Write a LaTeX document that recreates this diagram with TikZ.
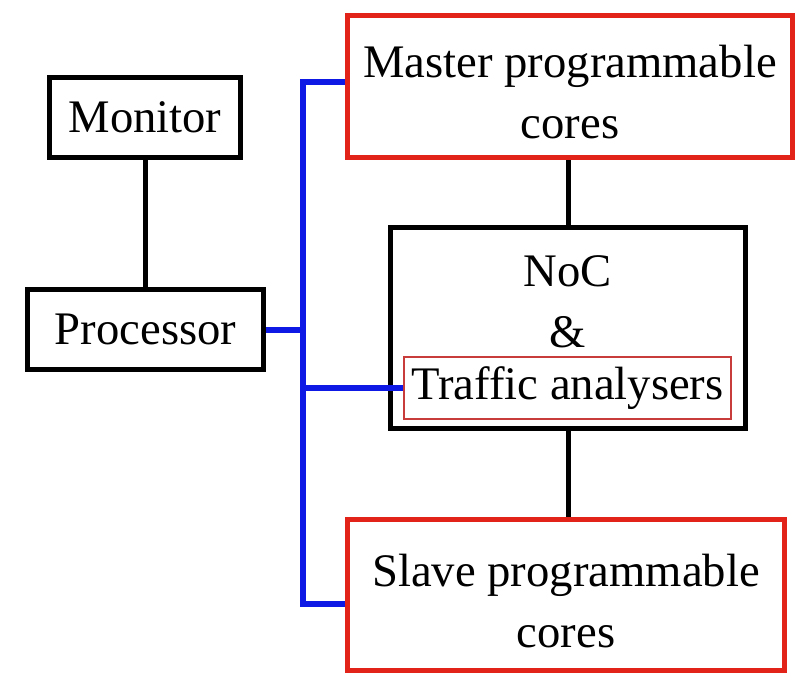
\documentclass[tikz,border=0pt]{standalone}
\usepackage{fontspec}
\setmainfont{Liberation Serif}
\definecolor{boxred}{RGB}{225,35,25}
\definecolor{thinred}{RGB}{200,60,60}
\definecolor{busblue}{RGB}{15,25,230}
\begin{document}
\begin{tikzpicture}[x=0.75pt,y=-0.75pt,
  every node/.style={font=\fontsize{35}{46}\selectfont,align=center,inner sep=0pt},
  blackbox/.style={draw=black,line width=3.75pt,rectangle},
  redbox/.style={draw=boxred,line width=3.75pt,rectangle},
  thinbox/.style={draw=thinred,line width=1.5pt,rectangle},
  link/.style={draw=black,line width=3.75pt},
  bus/.style={draw=busblue,line width=4.5pt,line join=miter}]
 \useasboundingbox (0,0) rectangle (801,674);
 % boxes
 \node[blackbox,minimum width=143.25pt,minimum height=60pt] (mon) at (145,117.5) {Monitor};
 \node[blackbox,minimum width=177pt,minimum height=60pt] (proc) at (145.5,329.5) {Processor};
 \node[redbox,minimum width=333.75pt,minimum height=106.5pt] (master) at (570,86.5) {};
 \node (mastertext) at (570,92) {Master programmable\\cores};
 \node[blackbox,minimum width=266.25pt,minimum height=150.75pt] (noc) at (568,328) {};
 \node (noctext) at (568,302) {NoC\\\&};
 \node[thinbox,minimum width=245.25pt,minimum height=46.5pt] (ta) at (567.5,388) {Traffic analysers};
 \node[redbox,minimum width=327.75pt,minimum height=113.25pt] (slave) at (566,595) {};
 \node (slavetext) at (566,601) {Slave programmable\\cores};
 % black links
 \draw[link] (mon.south) -- (mon.south |- proc.north);
 \draw[link] (noc.north) -- (noc.north |- master.south);
 \draw[link] (noc.south) -- (noc.south |- slave.north);
 % blue bus
 \coordinate (btop) at (303,82);
 \coordinate (bbot) at (303,604);
 \draw[bus] (btop -| master.west) -- (btop) -- (bbot) -- (bbot -| slave.west);
 \draw[bus] (proc.east) -- (proc.east -| btop);
 \draw[bus] (ta.west) -- (ta.west -| btop);
\end{tikzpicture}
\end{document}
